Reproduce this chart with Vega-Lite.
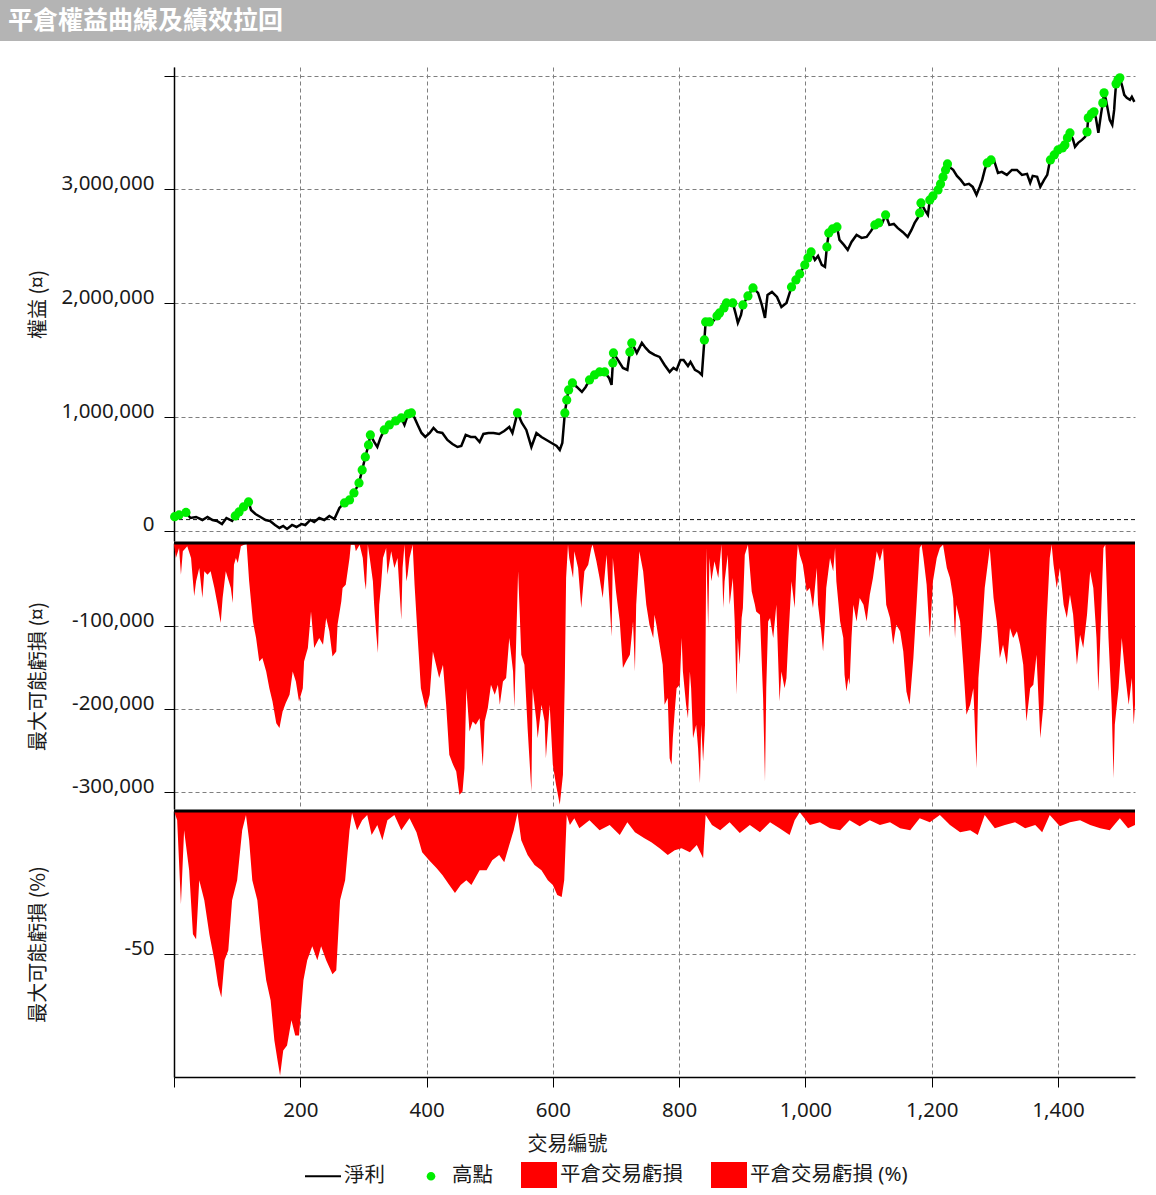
{
"$schema": "https://vega.github.io/schema/vega-lite/v6.json",
"padding": 0,
"background": "white",
"autosize": {"type": "pad"},
"bounds": "flush",
"spacing": 26,
"config": {
  "view": {"stroke": null},
  "font": "Noto Sans, Noto Sans CJK TC",
  "axis": {
    "labelFont": "Noto Sans, Noto Sans CJK TC", "labelFontSize": 20.5, "labelColor": "#1a1a1a",
    "titleFont": "Noto Sans CJK TC, Noto Sans", "titleFontSize": 20, "titleFontWeight": "normal", "titleColor": "#1a1a1a",
    "domainColor": "black", "domainWidth": 1.5,
    "tickColor": "black", "tickSize": 10, "tickWidth": 1,
    "gridColor": "#7f7f7f", "gridDash": [4, 3], "gridWidth": 1, "gridOpacity": 1
  }
},
"datasets": {
"eq": [
{"t":1,"v":125700,"h":1},{"t":8,"v":140600,"h":1},{"t":19,"v":162600,"h":1},{"t":26,"v":114200,"h":0},{"t":35,"v":123000,"h":0},{"t":45,"v":96700,"h":0},{"t":53,"v":123000,"h":0},{"t":61,"v":96700,"h":0},{"t":68,"v":87900,"h":0},{"t":76,"v":61500,"h":0},{"t":83,"v":114200,"h":0},{"t":92,"v":87900,"h":0},
{"t":97,"v":131800,"h":1},{"t":103,"v":167000,"h":1},{"t":110,"v":210900,"h":1},{"t":118,"v":254800,"h":1},{"t":122,"v":184500,"h":0},{"t":129,"v":149400,"h":0},{"t":137,"v":123000,"h":0},{"t":145,"v":96700,"h":0},{"t":152,"v":87900,"h":0},{"t":160,"v":52700,"h":0},{"t":167,"v":26400,"h":0},{"t":173,"v":43900,"h":0},{"t":179,"v":17600,"h":0},{"t":187,"v":52700,"h":0},{"t":194,"v":35100,"h":0},{"t":202,"v":61500,"h":0},{"t":208,"v":52700,"h":0},{"t":216,"v":96700,"h":0},{"t":222,"v":79100,"h":0},{"t":230,"v":114200,"h":0},{"t":238,"v":96700,"h":0},{"t":246,"v":131800,"h":0},{"t":254,"v":105400,"h":0},{"t":262,"v":202100,"h":0},
{"t":270,"v":246000,"h":1},{"t":278,"v":272400,"h":1},{"t":285,"v":333900,"h":1},{"t":293,"v":421800,"h":1},{"t":298,"v":536000,"h":1},{"t":303,"v":650200,"h":1},{"t":308,"v":755700,"h":1},{"t":311,"v":843600,"h":1},{"t":317,"v":782000,"h":0},{"t":322,"v":738100,"h":0},{"t":327,"v":817200,"h":0},{"t":333,"v":887500,"h":1},{"t":341,"v":931400,"h":1},{"t":351,"v":966600,"h":1},{"t":360,"v":993000,"h":1},{"t":365,"v":931400,"h":0},{"t":371,"v":1028100,"h":1},{"t":376,"v":1036900,"h":1},
{"t":381,"v":993000,"h":0},{"t":386,"v":931400,"h":0},{"t":392,"v":861100,"h":0},{"t":398,"v":826000,"h":0},{"t":405,"v":861100,"h":0},{"t":411,"v":905100,"h":0},{"t":417,"v":869900,"h":0},{"t":425,"v":861100,"h":0},{"t":433,"v":799600,"h":0},{"t":441,"v":764500,"h":0},{"t":449,"v":738100,"h":0},{"t":455,"v":746900,"h":0},{"t":462,"v":843600,"h":0},{"t":470,"v":826000,"h":0},{"t":477,"v":826000,"h":0},{"t":484,"v":782000,"h":0},{"t":490,"v":852300,"h":0},{"t":498,"v":861100,"h":0},{"t":506,"v":861100,"h":0},{"t":515,"v":852300,"h":0},{"t":523,"v":878700,"h":0},{"t":531,"v":913900,"h":0},{"t":536,"v":861100,"h":0},
{"t":544,"v":1036900,"h":1},{"t":551,"v":949000,"h":0},{"t":558,"v":887500,"h":0},{"t":566,"v":738100,"h":0},{"t":574,"v":861100,"h":0},{"t":582,"v":826000,"h":0},{"t":590,"v":799600,"h":0},{"t":598,"v":773300,"h":0},{"t":606,"v":746900,"h":0},{"t":611,"v":711700,"h":0},{"t":615,"v":773300,"h":0},
{"t":619,"v":1036900,"h":1},{"t":622,"v":1151100,"h":1},{"t":625,"v":1239000,"h":1},{"t":631,"v":1300500,"h":1},{"t":638,"v":1265300,"h":0},{"t":646,"v":1221400,"h":0},{"t":652,"v":1265300,"h":0},{"t":658,"v":1326800,"h":1},{"t":666,"v":1370800,"h":1},{"t":674,"v":1397100,"h":1},{"t":682,"v":1397100,"h":1},{"t":689,"v":1344400,"h":0},{"t":693,"v":1282900,"h":0},{"t":695,"v":1476200,"h":1},{"t":696,"v":1564100,"h":1},{"t":703,"v":1502600,"h":0},{"t":711,"v":1432300,"h":0},{"t":718,"v":1414700,"h":0},{"t":722,"v":1572900,"h":1},{"t":725,"v":1651900,"h":1},
{"t":733,"v":1564100,"h":0},{"t":741,"v":1651900,"h":0},{"t":747,"v":1608000,"h":0},{"t":753,"v":1572900,"h":0},{"t":761,"v":1546500,"h":0},{"t":769,"v":1528900,"h":0},{"t":777,"v":1458600,"h":0},{"t":785,"v":1397100,"h":0},{"t":791,"v":1432300,"h":0},{"t":796,"v":1414700,"h":0},{"t":802,"v":1502600,"h":0},{"t":807,"v":1502600,"h":0},{"t":814,"v":1449900,"h":0},{"t":818,"v":1485000,"h":0},{"t":825,"v":1414700,"h":0},{"t":831,"v":1397100,"h":0},{"t":836,"v":1370800,"h":0},
{"t":840,"v":1678300,"h":1},{"t":842,"v":1836500,"h":1},{"t":848,"v":1836500,"h":1},{"t":853,"v":1836500,"h":0},{"t":860,"v":1889200,"h":1},{"t":864,"v":1915600,"h":1},{"t":871,"v":1959500,"h":1},{"t":875,"v":2003400,"h":1},{"t":885,"v":2003400,"h":1},{"t":890,"v":1898000,"h":0},{"t":893,"v":1827700,"h":0},{"t":898,"v":1898000,"h":0},{"t":901,"v":1985900,"h":1},{"t":909,"v":2064900,"h":1},{"t":917,"v":2135200,"h":1},{"t":925,"v":2091300,"h":0},{"t":931,"v":1985900,"h":0},{"t":936,"v":1871600,"h":0},{"t":940,"v":2073700,"h":0},{"t":947,"v":2100100,"h":0},{"t":955,"v":2056200,"h":0},{"t":962,"v":1968300,"h":0},{"t":970,"v":2003400,"h":0},
{"t":978,"v":2144000,"h":1},{"t":985,"v":2205500,"h":1},{"t":991,"v":2258300,"h":1},{"t":999,"v":2337300,"h":1},{"t":1004,"v":2398900,"h":1},{"t":1009,"v":2451600,"h":1},{"t":1015,"v":2381300,"h":0},{"t":1020,"v":2416500,"h":0},{"t":1026,"v":2337300,"h":0},{"t":1031,"v":2319800,"h":0},{"t":1034,"v":2495500,"h":1},{"t":1037,"v":2618500,"h":1},{"t":1043,"v":2653700,"h":1},{"t":1050,"v":2671200,"h":1},{"t":1054,"v":2557000,"h":0},{"t":1061,"v":2513100,"h":0},{"t":1067,"v":2469100,"h":0},{"t":1073,"v":2539400,"h":0},{"t":1081,"v":2601000,"h":0},{"t":1089,"v":2574600,"h":0},{"t":1097,"v":2583400,"h":0},{"t":1104,"v":2636100,"h":0},
{"t":1110,"v":2688800,"h":1},{"t":1116,"v":2706400,"h":1},{"t":1121,"v":2697600,"h":0},{"t":1127,"v":2776700,"h":1},{"t":1133,"v":2688800,"h":0},{"t":1140,"v":2697600,"h":0},{"t":1146,"v":2662500,"h":0},{"t":1154,"v":2627300,"h":0},{"t":1162,"v":2583400,"h":0},{"t":1168,"v":2644900,"h":0},{"t":1173,"v":2706400,"h":0},{"t":1178,"v":2750300,"h":0},{"t":1181,"v":2794300,"h":1},{"t":1183,"v":2882100,"h":1},{"t":1189,"v":2820600,"h":0},{"t":1194,"v":2776700,"h":0},
{"t":1197,"v":2908500,"h":1},{"t":1202,"v":2943600,"h":1},{"t":1210,"v":2996300,"h":1},{"t":1214,"v":3049100,"h":1},{"t":1218,"v":3110600,"h":1},{"t":1222,"v":3172100,"h":1},{"t":1225,"v":3224800,"h":1},{"t":1230,"v":3189700,"h":0},{"t":1234,"v":3172100,"h":0},{"t":1240,"v":3119400,"h":0},{"t":1246,"v":3084200,"h":0},{"t":1252,"v":3040300,"h":0},{"t":1259,"v":3049100,"h":0},{"t":1265,"v":3022700,"h":0},{"t":1271,"v":2952400,"h":0},{"t":1276,"v":3022700,"h":0},{"t":1280,"v":3084200,"h":0},{"t":1284,"v":3172100,"h":0},
{"t":1288,"v":3233600,"h":1},{"t":1294,"v":3260000,"h":1},{"t":1299,"v":3251200,"h":0},{"t":1305,"v":3145700,"h":0},{"t":1311,"v":3154500,"h":0},{"t":1319,"v":3128200,"h":0},{"t":1327,"v":3172100,"h":0},{"t":1335,"v":3172100,"h":0},{"t":1343,"v":3128200,"h":0},{"t":1351,"v":3137000,"h":0},{"t":1356,"v":3057900,"h":0},{"t":1360,"v":3119400,"h":0},{"t":1367,"v":3110600,"h":0},{"t":1372,"v":3022700,"h":0},{"t":1378,"v":3084200,"h":0},{"t":1383,"v":3128200,"h":0},{"t":1386,"v":3216000,"h":0},
{"t":1388,"v":3260000,"h":1},{"t":1394,"v":3303900,"h":1},{"t":1400,"v":3347800,"h":1},{"t":1407,"v":3365400,"h":1},{"t":1411,"v":3391800,"h":1},{"t":1415,"v":3453300,"h":1},{"t":1419,"v":3497200,"h":1},{"t":1424,"v":3435700,"h":0},{"t":1427,"v":3374200,"h":0},{"t":1432,"v":3409300,"h":0},{"t":1438,"v":3435700,"h":0},{"t":1443,"v":3462100,"h":0},{"t":1446,"v":3506000,"h":1},{"t":1448,"v":3629000,"h":1},{"t":1453,"v":3664200,"h":1},{"t":1457,"v":3681800,"h":1},{"t":1460,"v":3629000,"h":0},{"t":1464,"v":3497200,"h":0},{"t":1468,"v":3655400,"h":0},
{"t":1471,"v":3760800,"h":1},{"t":1473,"v":3848700,"h":1},{"t":1476,"v":3787200,"h":0},{"t":1479,"v":3699300,"h":0},{"t":1482,"v":3611500,"h":0},{"t":1486,"v":3567500,"h":0},{"t":1489,"v":3699300,"h":0},{"t":1490,"v":3787200,"h":0},{"t":1492,"v":3927800,"h":1},{"t":1495,"v":3962900,"h":1},{"t":1498,"v":3980500,"h":1},{"t":1502,"v":3901400,"h":0},{"t":1505,"v":3831100,"h":0},{"t":1509,"v":3804800,"h":0},{"t":1514,"v":3787200,"h":0},{"t":1517,"v":3813600,"h":0},{"t":1521,"v":3769600,"h":0}
],
"dd": [
{"t":0,"v":-2000},{"t":3,"v":-18100},{"t":8,"v":-6000},{"t":11,"v":-38100},{"t":14,"v":-10000},{"t":21,"v":-4000},{"t":27,"v":-18100},{"t":32,"v":-64200},{"t":35,"v":-46100},{"t":40,"v":-30100},{"t":45,"v":-66200},{"t":48,"v":-34100},{"t":53,"v":-38100},{"t":58,"v":-34100},{"t":64,"v":-54200},{"t":69,"v":-74200},{"t":74,"v":-96300},{"t":77,"v":-66200},{"t":82,"v":-34100},{"t":90,"v":-54200},{"t":93,"v":-72200},{"t":95,"v":-26100},{"t":98,"v":-18100},{"t":101,"v":-24100},{"t":106,"v":-4000},{"t":111,"v":-2000},{"t":115,"v":-1200},
{"t":119,"v":-46100},{"t":125,"v":-94300},{"t":130,"v":-114400},{"t":135,"v":-142500},{"t":140,"v":-138400},{"t":146,"v":-154500},{"t":151,"v":-174600},{"t":156,"v":-190600},{"t":162,"v":-216700},{"t":167,"v":-222700},{"t":172,"v":-202700},{"t":177,"v":-192600},{"t":183,"v":-182600},{"t":188,"v":-154500},{"t":193,"v":-166500},{"t":198,"v":-190600},{"t":204,"v":-174600},{"t":206,"v":-142500},{"t":212,"v":-126400},{"t":217,"v":-82300},{"t":222,"v":-126400},{"t":230,"v":-114400},{"t":236,"v":-122400},{"t":241,"v":-90300},{"t":246,"v":-106300},{"t":251,"v":-136400},{"t":257,"v":-130400},{"t":259,"v":-98300},{"t":265,"v":-70200},{"t":267,"v":-54200},{"t":272,"v":-50200},{"t":278,"v":-18100},{"t":280,"v":-2000},
{"t":286,"v":-2000},{"t":288,"v":-10000},{"t":294,"v":-2000},{"t":299,"v":-18100},{"t":302,"v":-46100},{"t":304,"v":-56200},{"t":307,"v":-2000},{"t":310,"v":-18100},{"t":315,"v":-46100},{"t":317,"v":-74200},{"t":320,"v":-106300},{"t":323,"v":-132400},{"t":325,"v":-74200},{"t":328,"v":-50200},{"t":331,"v":-18100},{"t":336,"v":-6000},{"t":338,"v":-38100},{"t":344,"v":-10000},{"t":349,"v":-30100},{"t":354,"v":-18100},{"t":360,"v":-92300},{"t":362,"v":-30100},{"t":365,"v":-2000},{"t":368,"v":-46100},{"t":370,"v":-38100},{"t":373,"v":-18100},{"t":378,"v":-2000},
{"t":381,"v":-50200},{"t":386,"v":-114400},{"t":391,"v":-174600},{"t":397,"v":-194600},{"t":399,"v":-200700},{"t":405,"v":-182600},{"t":410,"v":-130400},{"t":415,"v":-146500},{"t":420,"v":-162500},{"t":426,"v":-146500},{"t":431,"v":-194600},{"t":436,"v":-254800},{"t":442,"v":-266900},{"t":447,"v":-274900},{"t":452,"v":-302900},{"t":457,"v":-299000},{"t":460,"v":-270900},{"t":463,"v":-174600},{"t":468,"v":-226700},{"t":473,"v":-214700},{"t":478,"v":-218700},{"t":484,"v":-210700},{"t":489,"v":-268900},{"t":492,"v":-214700},{"t":497,"v":-198600},{"t":502,"v":-170600},{"t":508,"v":-182600},{"t":513,"v":-170600},{"t":516,"v":-194600},{"t":521,"v":-166500},{"t":526,"v":-162500},{"t":531,"v":-114400},{"t":537,"v":-154500},{"t":539,"v":-198600},{"t":545,"v":-34100},{"t":550,"v":-134400},{"t":555,"v":-146500},{"t":560,"v":-222700},{"t":566,"v":-299000},{"t":568,"v":-174600},{"t":574,"v":-214700},{"t":576,"v":-234800},{"t":582,"v":-194600},{"t":587,"v":-214700},{"t":589,"v":-258800},{"t":595,"v":-194600},{"t":600,"v":-266900},{"t":605,"v":-290900},{"t":611,"v":-315000},{"t":616,"v":-278900},{"t":619,"v":-162500},{"t":621,"v":-42100},{"t":624,"v":-2000},
{"t":626,"v":-18100},{"t":632,"v":-42100},{"t":634,"v":-10000},{"t":640,"v":-30100},{"t":645,"v":-78300},{"t":650,"v":-34100},{"t":656,"v":-26100},{"t":661,"v":-6000},{"t":663,"v":-2000},{"t":669,"v":-22100},{"t":674,"v":-42100},{"t":679,"v":-66200},{"t":685,"v":-14000},{"t":690,"v":-74200},{"t":693,"v":-112400},{"t":695,"v":-18100},{"t":700,"v":-58200},{"t":706,"v":-94300},{"t":711,"v":-150500},{"t":716,"v":-142500},{"t":722,"v":-134400},{"t":727,"v":-94300},{"t":730,"v":-154500},{"t":732,"v":-74200},{"t":737,"v":-10000},{"t":743,"v":-34100},{"t":748,"v":-74200},{"t":753,"v":-98300},{"t":759,"v":-114400},{"t":761,"v":-86300},{"t":764,"v":-98300},{"t":769,"v":-122400},{"t":774,"v":-146500},{"t":777,"v":-194600},{"t":782,"v":-186600},{"t":785,"v":-258800},{"t":788,"v":-266900},{"t":790,"v":-234800},{"t":793,"v":-202700},{"t":796,"v":-174600},{"t":801,"v":-170600},{"t":804,"v":-114400},{"t":806,"v":-154500},{"t":811,"v":-194600},{"t":814,"v":-210700},{"t":817,"v":-154500},{"t":819,"v":-174600},{"t":822,"v":-234800},{"t":827,"v":-218700},{"t":830,"v":-246800},{"t":833,"v":-288900},{"t":835,"v":-218700},{"t":838,"v":-262900},{"t":841,"v":-218700},{"t":843,"v":-6000},
{"t":846,"v":-102300},{"t":848,"v":-18100},{"t":851,"v":-46100},{"t":856,"v":-22100},{"t":862,"v":-42100},{"t":867,"v":-2000},{"t":870,"v":-78300},{"t":872,"v":-46100},{"t":877,"v":-14000},{"t":880,"v":-74200},{"t":885,"v":-42100},{"t":888,"v":-94300},{"t":891,"v":-182600},{"t":893,"v":-114400},{"t":896,"v":-146500},{"t":899,"v":-90300},{"t":901,"v":-78300},{"t":904,"v":-14000},{"t":909,"v":-2000},{"t":915,"v":-58200},{"t":920,"v":-74200},{"t":922,"v":-82300},{"t":928,"v":-86300},{"t":933,"v":-186600},{"t":936,"v":-286900},{"t":938,"v":-174600},{"t":941,"v":-94300},{"t":944,"v":-90300},{"t":949,"v":-114400},{"t":954,"v":-74200},{"t":959,"v":-190600},{"t":962,"v":-154500},{"t":967,"v":-174600},{"t":970,"v":-162500},{"t":973,"v":-114400},{"t":978,"v":-46100},{"t":983,"v":-78300},{"t":986,"v":-22100},{"t":988,"v":-2000},
{"t":991,"v":-14000},{"t":996,"v":-26100},{"t":1002,"v":-58200},{"t":1007,"v":-54200},{"t":1012,"v":-78300},{"t":1018,"v":-30100},{"t":1020,"v":-74200},{"t":1025,"v":-106300},{"t":1028,"v":-130400},{"t":1031,"v":-94300},{"t":1033,"v":-54200},{"t":1039,"v":-18100},{"t":1044,"v":-34100},{"t":1047,"v":-6000},{"t":1049,"v":-46100},{"t":1055,"v":-94300},{"t":1060,"v":-114400},{"t":1062,"v":-158500},{"t":1065,"v":-178600},{"t":1068,"v":-162500},{"t":1070,"v":-170600},{"t":1073,"v":-114400},{"t":1076,"v":-74200},{"t":1081,"v":-94300},{"t":1086,"v":-66200},{"t":1092,"v":-74200},{"t":1097,"v":-94300},{"t":1102,"v":-62200},{"t":1107,"v":-42100},{"t":1113,"v":-10000},{"t":1118,"v":-22100},{"t":1123,"v":-6000},{"t":1128,"v":-74200},{"t":1134,"v":-90300},{"t":1139,"v":-122400},{"t":1144,"v":-98300},{"t":1150,"v":-106300},{"t":1155,"v":-130400},{"t":1160,"v":-178600},{"t":1165,"v":-194600},{"t":1171,"v":-138400},{"t":1176,"v":-74200},{"t":1181,"v":-6000},{"t":1184,"v":-2000},
{"t":1187,"v":-18100},{"t":1192,"v":-50200},{"t":1197,"v":-114400},{"t":1202,"v":-46100},{"t":1208,"v":-18100},{"t":1213,"v":-6000},{"t":1218,"v":-2000},{"t":1224,"v":-30100},{"t":1229,"v":-42100},{"t":1234,"v":-66200},{"t":1237,"v":-114400},{"t":1239,"v":-74200},{"t":1245,"v":-94300},{"t":1250,"v":-146500},{"t":1255,"v":-206700},{"t":1261,"v":-194600},{"t":1266,"v":-174600},{"t":1271,"v":-270900},{"t":1274,"v":-162500},{"t":1279,"v":-114400},{"t":1284,"v":-54200},{"t":1290,"v":-18100},{"t":1292,"v":-6000},{"t":1298,"v":-66200},{"t":1303,"v":-94300},{"t":1308,"v":-138400},{"t":1313,"v":-122400},{"t":1319,"v":-146500},{"t":1324,"v":-102300},{"t":1329,"v":-114400},{"t":1335,"v":-106300},{"t":1340,"v":-122400},{"t":1345,"v":-146500},{"t":1350,"v":-214700},{"t":1356,"v":-174600},{"t":1361,"v":-170600},{"t":1366,"v":-134400},{"t":1372,"v":-234800},{"t":1377,"v":-194600},{"t":1382,"v":-94300},{"t":1387,"v":-18100},{"t":1390,"v":-2000},
{"t":1393,"v":-26100},{"t":1398,"v":-54200},{"t":1403,"v":-30100},{"t":1409,"v":-74200},{"t":1414,"v":-90300},{"t":1419,"v":-62200},{"t":1424,"v":-86300},{"t":1430,"v":-146500},{"t":1435,"v":-110400},{"t":1440,"v":-126400},{"t":1446,"v":-86300},{"t":1451,"v":-34100},{"t":1456,"v":-54200},{"t":1461,"v":-114400},{"t":1464,"v":-178600},{"t":1467,"v":-114400},{"t":1472,"v":-6000},{"t":1475,"v":-2000},{"t":1480,"v":-114400},{"t":1485,"v":-194600},{"t":1488,"v":-282900},{"t":1490,"v":-218700},{"t":1496,"v":-174600},{"t":1501,"v":-114400},{"t":1506,"v":-154500},{"t":1512,"v":-194600},{"t":1517,"v":-162500},{"t":1520,"v":-218700},{"t":1522,"v":-194600}
],
"pc": [
{"t":0,"v":0},{"t":5,"v":-3.2},{"t":11,"v":-32.6},{"t":16,"v":-6.7},{"t":24,"v":-20.7},{"t":30,"v":-43.1},{"t":35,"v":-44.8},{"t":40,"v":-24.2},{"t":48,"v":-31.2},{"t":56,"v":-43.1},{"t":64,"v":-52.2},{"t":70,"v":-61},{"t":75,"v":-65.2},{"t":80,"v":-52.2},{"t":86,"v":-48.7},{"t":92,"v":-31.2},{"t":100,"v":-24.2},{"t":108,"v":-6.7},{"t":114,"v":-1.4},
{"t":119,"v":-10.2},{"t":124,"v":-24.2},{"t":132,"v":-31.2},{"t":138,"v":-45.2},{"t":146,"v":-59.2},{"t":153,"v":-66.2},{"t":159,"v":-80.2},{"t":164,"v":-87.2},{"t":168,"v":-92.5},{"t":173,"v":-83.7},{"t":179,"v":-82},{"t":186,"v":-73.2},{"t":192,"v":-78.5},{"t":198,"v":-78.5},{"t":205,"v":-59.2},{"t":211,"v":-52.2},{"t":219,"v":-47.3},{"t":227,"v":-52.2},{"t":233,"v":-47.3},{"t":241,"v":-52.2},{"t":251,"v":-57.1},{"t":257,"v":-55.7},{"t":263,"v":-31.2},{"t":271,"v":-24.2},{"t":278,"v":-6.7},{"t":282,"v":-0.7},
{"t":290,"v":-6.7},{"t":298,"v":-3.2},{"t":306,"v":-1.4},{"t":313,"v":-8.4},{"t":322,"v":-4.9},{"t":330,"v":-10.2},{"t":338,"v":-3.2},{"t":349,"v":-1.4},{"t":360,"v":-6.7},{"t":373,"v":-2.5},{"t":384,"v":-7.4},{"t":393,"v":-14.4},{"t":404,"v":-17.2},{"t":416,"v":-20},{"t":425,"v":-22.4},{"t":436,"v":-25.9},{"t":445,"v":-28.7},{"t":454,"v":-25.9},{"t":463,"v":-24.2},{"t":471,"v":-25.9},{"t":484,"v":-20.7},{"t":495,"v":-20.7},{"t":504,"v":-17.2},{"t":515,"v":-15.4},{"t":523,"v":-17.9},{"t":531,"v":-11.9},{"t":538,"v":-6.7},{"t":544,"v":-0.7},
{"t":550,"v":-10.2},{"t":560,"v":-15.4},{"t":571,"v":-18.9},{"t":582,"v":-20.7},{"t":592,"v":-24.2},{"t":600,"v":-25.9},{"t":607,"v":-29.4},{"t":614,"v":-30.1},{"t":618,"v":-24.2},{"t":622,"v":-1.4},{"t":627,"v":-4.9},{"t":634,"v":-2.5},{"t":642,"v":-6},{"t":658,"v":-3.2},{"t":674,"v":-6.7},{"t":690,"v":-4.9},{"t":706,"v":-8.4},{"t":718,"v":-3.9},{"t":730,"v":-7.4},{"t":745,"v":-9.5},{"t":756,"v":-10.9},{"t":769,"v":-13},{"t":782,"v":-15.4},{"t":793,"v":-13.7},{"t":804,"v":-13},{"t":817,"v":-14.4},{"t":828,"v":-11.9},{"t":838,"v":-16.5},{"t":842,"v":-1.4},
{"t":852,"v":-4.9},{"t":865,"v":-6.7},{"t":880,"v":-3.9},{"t":896,"v":-7.7},{"t":912,"v":-4.9},{"t":928,"v":-7.4},{"t":944,"v":-3.9},{"t":959,"v":-6},{"t":975,"v":-8.4},{"t":983,"v":-3.2},{"t":991,"v":-0.4},{"t":1007,"v":-4.9},{"t":1023,"v":-3.9},{"t":1039,"v":-6},{"t":1055,"v":-6.7},{"t":1070,"v":-3.2},{"t":1086,"v":-5.3},{"t":1102,"v":-3.2},{"t":1118,"v":-4.9},{"t":1134,"v":-3.9},{"t":1150,"v":-6},{"t":1166,"v":-6.7},{"t":1181,"v":-2.5},{"t":1197,"v":-3.9},{"t":1213,"v":-1.4},{"t":1229,"v":-4.9},{"t":1245,"v":-7.4},{"t":1261,"v":-6.7},{"t":1273,"v":-8.4},{"t":1284,"v":-1.4},
{"t":1300,"v":-6},{"t":1316,"v":-4.9},{"t":1332,"v":-3.9},{"t":1348,"v":-6},{"t":1364,"v":-4.9},{"t":1375,"v":-7.4},{"t":1387,"v":-1.4},{"t":1403,"v":-5.3},{"t":1419,"v":-3.9},{"t":1435,"v":-3.2},{"t":1451,"v":-4.9},{"t":1467,"v":-6},{"t":1482,"v":-6.7},{"t":1498,"v":-2.5},{"t":1511,"v":-6},{"t":1522,"v":-4.9}
]
},
"vconcat": [
  {
    "width": 961, "height": 41,
    "view": {"stroke": null},
    "data": {"values": [{"label": "平倉權益曲線及績效拉回"}]},
    "layer": [
      {"mark": {"type": "rect", "color": "#b4b4b4"},
       "encoding": {
         "x": {"datum": -0.18106, "type": "quantitative", "scale": {"domain": [0, 1], "nice": false, "zero": false}, "axis": null},
         "x2": {"datum": 1.02185}
       }},
      {"mark": {"type": "text", "color": "white", "fontSize": 25, "fontWeight": "bold", "font": "Noto Sans CJK TC", "align": "left", "baseline": "middle"},
       "encoding": {
         "x": {"datum": -0.17274, "type": "quantitative"},
         "y": {"datum": 0.5, "type": "quantitative", "scale": {"domain": [0, 1], "nice": false, "zero": false}, "axis": null},
         "text": {"field": "label"}
       }}
    ]
  },
  {
    "vconcat": [
      {
        "width": 961, "height": 474,
        "layer": [
          {"data": {"values": [{"v": 100000}]},
           "mark": {"type": "rule", "color": "#111111", "strokeDash": [4, 3], "strokeWidth": 1},
           "encoding": {"y": {"field": "v", "type": "quantitative"}}},
          {"data": {"name": "eq"},
           "mark": {"type": "line", "color": "black", "strokeWidth": 2.5},
           "encoding": {
             "x": {"field": "t", "type": "quantitative", "scale": {"domain": [0, 1522], "nice": false, "zero": false},
                   "axis": {"values": [0, 200, 400, 600, 800, 1000, 1200, 1400], "labels": false, "ticks": false, "domain": false, "grid": true, "title": null}},
             "y": {"field": "v", "type": "quantitative", "scale": {"domain": [-88000, 4076000], "nice": false, "zero": false},
                   "axis": {"values": [0, 1000000, 2000000, 3000000, 4000000],
                            "labelExpr": "datum.value >= 4000000 ? '' : format(datum.value, ',d')",
                            "labelBaseline": "alphabetic", "labelPadding": 10, "grid": true,
                            "title": "權益 (¤)", "titleX": -136, "titleBaseline": "middle"}}
           }},
          {"data": {"name": "eq"},
           "transform": [{"filter": "datum.h == 1"}],
           "mark": {"type": "circle", "color": "#00ee00", "size": 85, "opacity": 1},
           "encoding": {
             "x": {"field": "t", "type": "quantitative"},
             "y": {"field": "v", "type": "quantitative"}
           }}
        ]
      },
      {
        "width": 961, "height": 266,
        "layer": [
          {"data": {"name": "dd"},
           "mark": {"type": "area", "color": "#ff0000", "opacity": 1},
           "encoding": {
             "x": {"field": "t", "type": "quantitative", "scale": {"domain": [0, 1522], "nice": false, "zero": false},
                   "axis": {"values": [0, 200, 400, 600, 800, 1000, 1200, 1400], "labels": false, "ticks": false, "domain": false, "grid": true, "title": null}},
             "y": {"field": "v", "type": "quantitative", "scale": {"domain": [-320000, 0], "nice": false},
                   "axis": {"values": [-100000, -200000, -300000],
                            "labelExpr": "'-' + format(abs(datum.value), ',d')",
                            "labelBaseline": "alphabetic", "labelPadding": 10, "grid": true,
                            "title": "最大可能虧損 (¤)", "titleX": -136, "titleBaseline": "middle"}}
           }},
          {"data": {"values": [{"v": 0}]},
           "mark": {"type": "rule", "color": "black", "strokeWidth": 3},
           "encoding": {"y": {"field": "v", "type": "quantitative"}}}
        ]
      },
      {
        "width": 961, "height": 266,
        "layer": [
          {"data": {"name": "pc"},
           "mark": {"type": "area", "color": "#ff0000", "opacity": 1},
           "encoding": {
             "x": {"field": "t", "type": "quantitative", "scale": {"domain": [0, 1522], "nice": false, "zero": false},
                   "axis": {"values": [0, 200, 400, 600, 800, 1000, 1200, 1400],
                            "labelExpr": "datum.value == 0 ? '' : format(datum.value, ',d')",
                            "labelPadding": 13, "grid": true, "title": "交易編號", "titleX": 393, "titleY": 67, "titleBaseline": "middle"}},
             "y": {"field": "v", "type": "quantitative", "scale": {"domain": [-93, 0], "nice": false},
                   "axis": {"values": [-50],
                            "labelExpr": "'-' + format(abs(datum.value), 'd')",
                            "labelBaseline": "alphabetic", "labelPadding": 10, "grid": true,
                            "title": "最大可能虧損 (%)", "titleX": -136, "titleBaseline": "middle"}}
           }},
          {"data": {"values": [{"v": 0}]},
           "mark": {"type": "rule", "color": "black", "strokeWidth": 3},
           "encoding": {"y": {"field": "v", "type": "quantitative"}}},
          {"data": {"values": [{"s": "淨利"}, {"s": "高點"}, {"s": "平倉交易虧損"}, {"s": "平倉交易虧損 (%)"}]},
           "transform": [{"filter": "false"}],
           "mark": {"type": "point", "filled": true},
           "encoding": {
             "color": {"field": "s", "type": "nominal",
                       "scale": {"domain": ["淨利", "高點", "平倉交易虧損", "平倉交易虧損 (%)"], "range": ["#000000", "#00ee00", "#ff0000", "#ff0000"]},
                       "legend": {"orient": "none", "legendX": 131, "legendY": 1157, "direction": "horizontal", "title": null,
                                  "symbolSize": 1296, "symbolStrokeWidth": 0, "symbolOpacity": 1,
                                  "labelFont": "Noto Sans, Noto Sans CJK TC", "labelFontSize": 20.5, "labelColor": "#1a1a1a",
                                  "labelOffset": 3, "columnPadding": 28, "padding": 0, "labelLimit": 400}},
             "shape": {"field": "s", "type": "nominal",
                       "scale": {"domain": ["淨利", "高點", "平倉交易虧損", "平倉交易虧損 (%)"],
                                 "range": ["M-1,-0.06H1V0.06H-1Z", "M0.24,0A0.24,0.24,0,1,1,-0.24,0A0.24,0.24,0,1,1,0.24,0Z", "M-1,-0.72H1V0.72H-1Z", "M-1,-0.72H1V0.72H-1Z"]},
                       "legend": {"orient": "none", "legendX": 131, "legendY": 1157, "direction": "horizontal", "title": null,
                                  "symbolSize": 1296, "symbolStrokeWidth": 0, "symbolOpacity": 1,
                                  "labelFont": "Noto Sans, Noto Sans CJK TC", "labelFontSize": 20.5, "labelColor": "#1a1a1a",
                                  "labelOffset": 3, "columnPadding": 28, "padding": 0, "labelLimit": 400}}
           }}
        ]
      }
    ],
    "spacing": 2,
    "bounds": "flush"
  }
]
}
